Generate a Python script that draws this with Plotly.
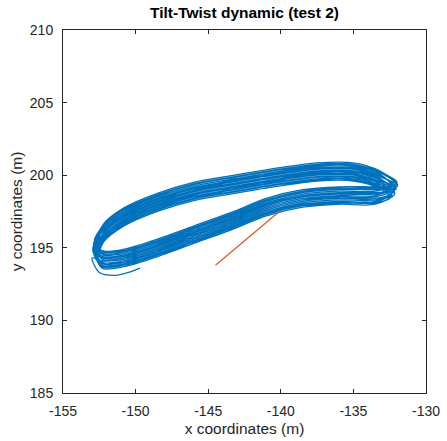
import plotly.graph_objects as go

# ---- data (metres) ----
loop_x = [
    [-152.8, -152.2, -150.8, -148.5, -146.0, -143.5, -140.5, -137.5, -135.0, -133.2, -132.1, -133.5, -136.0, -138.5, -141.0, -143.5, -146.0, -148.5, -150.8, -152.3],
    [-152.7, -152.2, -150.8, -148.5, -146.0, -143.5, -140.5, -137.5, -135.0, -133.2, -132.4, -133.5, -136.0, -138.5, -141.0, -143.5, -146.0, -148.5, -150.8, -152.3],
    [-152.9, -152.2, -150.8, -148.5, -146.0, -143.5, -140.5, -137.5, -135.0, -133.2, -132.0, -133.5, -136.0, -138.5, -141.0, -143.5, -146.0, -148.5, -150.8, -152.3],
    [-152.6, -152.2, -150.8, -148.5, -146.0, -143.5, -140.5, -137.5, -135.0, -133.2, -132.45, -133.5, -136.0, -138.5, -141.0, -143.5, -146.0, -148.5, -150.8, -152.3],
    [-152.95, -152.2, -150.8, -148.5, -146.0, -143.5, -140.5, -137.5, -135.0, -133.2, -132.05, -133.5, -136.0, -138.5, -141.0, -143.5, -146.0, -148.5, -150.8, -152.3],
    [-152.75, -152.2, -150.8, -148.5, -146.0, -143.5, -140.5, -137.5, -135.0, -133.2, -132.2, -133.5, -136.0, -138.5, -141.0, -143.5, -146.0, -148.5, -150.8, -152.3],
    [-152.85, -152.2, -150.8, -148.5, -146.0, -143.5, -140.5, -137.5, -135.0, -133.2, -132.3, -133.5, -136.0, -138.5, -141.0, -143.5, -146.0, -148.5, -150.8, -152.3],
    [-152.8, -152.2, -150.8, -148.5, -146.0, -143.5, -140.5, -137.5, -135.0, -133.2, -131.95, -133.5, -136.0, -138.5, -141.0, -143.5, -146.0, -148.5, -150.8, -152.3],
    [-152.65, -152.2, -150.8, -148.5, -146.0, -143.5, -140.5, -137.5, -135.0, -133.2, -132.4, -133.5, -136.0, -138.5, -141.0, -143.5, -146.0, -148.5, -150.8, -152.3],
    [-152.7, -152.2, -150.8, -148.5, -146.0, -143.5, -140.5, -137.5, -135.0, -133.2, -132.15, -133.5, -136.0, -138.5, -141.0, -143.5, -146.0, -148.5, -150.8, -152.3],
    [-152.9, -152.2, -150.8, -148.5, -146.0, -143.5, -140.5, -137.5, -135.0, -133.2, -132.25, -133.5, -136.0, -138.5, -141.0, -143.5, -146.0, -148.5, -150.8, -152.3],
    [-152.85, -152.2, -150.8, -148.5, -146.0, -143.5, -140.5, -137.5, -135.0, -133.2, -132.0, -133.5, -136.0, -138.5, -141.0, -143.5, -146.0, -148.5, -150.8, -152.3],
    [-152.65, -152.2, -150.8, -148.5, -146.0, -143.5, -140.5, -137.5, -135.0, -133.2, -132.35, -133.5, -136.0, -138.5, -141.0, -143.5, -146.0, -148.5, -150.8, -152.3],
    [-152.75, -152.2, -150.8, -148.5, -146.0, -143.5, -140.5, -137.5, -135.0, -133.2, -132.2, -133.5, -136.0, -138.5, -141.0, -143.5, -146.0, -148.5, -150.8, -152.3],
    [-152.9, -152.2, -150.8, -148.5, -146.0, -143.5, -140.5, -137.5, -135.0, -133.2, -132.3, -133.5, -136.0, -138.5, -141.0, -143.5, -146.0, -148.5, -150.8, -152.3],
    [-152.8, -152.2, -150.8, -148.5, -146.0, -143.5, -140.5, -137.5, -135.0, -133.2, -132.1, -133.5, -136.0, -138.5, -141.0, -143.5, -146.0, -148.5, -150.8, -152.3],
    [-152.7, -152.2, -150.8, -148.5, -146.0, -143.5, -140.5, -137.5, -135.0, -133.2, -132.4, -133.5, -136.0, -138.5, -141.0, -143.5, -146.0, -148.5, -150.8, -152.3],
    [-152.8, -152.2, -150.8, -148.5, -146.0, -143.5, -140.5, -137.5, -135.0, -133.2, -132.1, -133.5, -136.0, -138.5, -141.0, -143.5, -146.0, -148.5, -150.8, -152.3],
]
loop_y = [
    [195.3, 196.5, 197.6, 198.6, 199.35, 199.8, 200.3, 200.7, 200.7, 200.2, 199.4, 198.9, 198.9, 198.7, 198.1, 197.1, 196.2, 195.3, 194.6, 194.5],
    [194.65, 195.7, 196.8, 197.8, 198.55, 199.0, 199.5, 199.9, 199.9, 199.4, 198.75, 198.4, 198.4, 198.2, 197.6, 196.6, 195.7, 194.8, 194.1, 194.0],
    [195.25, 196.2, 197.3, 198.3, 199.05, 199.5, 200.0, 200.4, 200.4, 199.9, 199.35, 199.1, 199.1, 198.9, 198.3, 197.3, 196.4, 195.5, 194.8, 194.7],
    [194.35, 195.4, 196.5, 197.5, 198.25, 198.7, 199.2, 199.6, 199.6, 199.1, 198.45, 198.1, 198.1, 197.9, 197.3, 196.3, 195.4, 194.5, 193.8, 193.7],
    [194.95, 196.0, 197.1, 198.1, 198.85, 199.3, 199.8, 200.2, 200.2, 199.7, 199.05, 198.7, 198.7, 198.5, 197.9, 196.9, 196.0, 195.1, 194.4, 194.3],
    [194.9, 196.4, 197.5, 198.5, 199.25, 199.7, 200.2, 200.6, 200.6, 200.1, 199.0, 198.2, 198.2, 198.0, 197.4, 196.4, 195.5, 194.6, 193.9, 193.8],
    [195.0, 195.8, 196.9, 197.9, 198.65, 199.1, 199.6, 200.0, 200.0, 199.5, 199.1, 199.0, 199.0, 198.8, 198.2, 197.2, 196.3, 195.4, 194.7, 194.6],
    [195.2, 196.65, 197.75, 198.75, 199.5, 199.95, 200.45, 200.85, 200.85, 200.3, 199.3, 198.6, 198.6, 198.4, 197.8, 196.8, 195.9, 195.0, 194.3, 194.2],
    [194.8, 195.55, 196.65, 197.65, 198.4, 198.85, 199.35, 199.75, 199.75, 199.25, 198.9, 198.8, 198.8, 198.6, 198.0, 197.0, 196.1, 195.2, 194.5, 194.4],
    [194.65, 196.1, 197.2, 198.2, 198.95, 199.4, 199.9, 200.3, 200.3, 199.8, 198.75, 198.0, 198.0, 197.8, 197.2, 196.2, 195.3, 194.4, 193.7, 193.6],
    [195.15, 195.9, 197.0, 198.0, 198.75, 199.2, 199.7, 200.1, 200.1, 199.6, 199.25, 199.2, 199.2, 199.0, 198.4, 197.4, 196.5, 195.6, 194.9, 194.8],
    [195.4, 196.55, 197.65, 198.65, 199.4, 199.85, 200.35, 200.75, 200.75, 200.25, 199.5, 199.05, 199.05, 198.85, 198.25, 197.25, 196.35, 195.45, 194.75, 194.65],
    [194.5, 195.5, 196.6, 197.6, 198.35, 198.8, 199.3, 199.7, 199.7, 199.2, 198.6, 198.3, 198.3, 198.1, 197.5, 196.5, 195.6, 194.7, 194.0, 193.9],
    [194.78, 196.05, 197.15, 198.15, 198.9, 199.35, 199.85, 200.25, 200.25, 199.75, 198.88, 198.3, 198.3, 198.1, 197.5, 196.5, 195.6, 194.7, 194.0, 193.9],
    [194.98, 195.65, 196.75, 197.75, 198.5, 198.95, 199.45, 199.85, 199.85, 199.35, 199.08, 199.1, 199.1, 198.9, 198.3, 197.3, 196.4, 195.5, 194.8, 194.7],
    [195.1, 196.25, 197.35, 198.35, 199.1, 199.55, 200.05, 200.45, 200.45, 199.95, 199.2, 198.75, 198.75, 198.55, 197.95, 196.95, 196.05, 195.15, 194.45, 194.35],
    [194.6, 195.85, 196.95, 197.95, 198.7, 199.15, 199.65, 200.05, 200.05, 199.55, 198.7, 198.15, 198.15, 197.95, 197.35, 196.35, 195.45, 194.55, 193.85, 193.75],
    [195.0, 196.3, 197.4, 198.4, 199.15, 199.6, 200.1, 200.5, 200.5, 200.0, 199.1, 198.5, 198.5, 198.3, 197.7, 196.7, 195.8, 194.9, 194.2, 194.1],
]
tail_x = [-153.0, -152.5, -151.4, -150.5, -149.7]
tail_y = [194.3, 193.3, 193.1, 193.3, 193.6]

orange_x = [-144.5, -140.1]
orange_y = [193.8, 197.5]

x_ticks = [-155, -150, -145, -140, -135, -130]
y_ticks = [185, 190, 195, 200, 205, 210]

# ---- build the trajectory ----
traj_x, traj_y = [], []
for lx, ly in zip(loop_x, loop_y):
    traj_x += lx
    traj_y += ly
traj_x += tail_x
traj_y += tail_y

FONT = "Liberation Sans, Arial, Helvetica, sans-serif"

fig = go.Figure()
fig.add_trace(go.Scatter(x=traj_x, y=traj_y, mode="lines",
                         line=dict(color="#0072BD", width=1.3, shape="spline", smoothing=0.85),
                         showlegend=False, hoverinfo="skip"))
fig.add_trace(go.Scatter(x=orange_x, y=orange_y, mode="lines",
                         line=dict(color="#D95319", width=1.1),
                         showlegend=False, hoverinfo="skip"))

axis_common = dict(showgrid=False, zeroline=False, showline=True, linecolor="#262626",
                   linewidth=1, mirror="ticks", ticks="inside", ticklen=4, tickcolor="#262626",
                   automargin=False,
                   tickfont=dict(family=FONT, size=14, color="#262626"))

fig.update_layout(
    width=447, height=441,
    margin=dict(l=63, r=21, t=30, b=48),
    paper_bgcolor="white", plot_bgcolor="white",
    title=dict(text="<b>Tilt-Twist dynamic (test 2)</b>", x=0.5, xanchor="center",
               y=1 - 13 / 441, yanchor="middle", xref="paper",
               font=dict(family=FONT, size=15.5, color="black")),
    xaxis=dict(range=[-155, -130], tickvals=x_ticks, ticktext=[str(v) for v in x_ticks],
               title=dict(text="x coordinates (m)", standoff=5,
                          font=dict(family=FONT, size=15.5, color="#262626")),
               ticklabelstandoff=5, **axis_common),
    yaxis=dict(range=[185, 210], tickvals=y_ticks, ticktext=[str(v) for v in y_ticks],
               title=dict(text="y coordinates (m)", standoff=3,
                          font=dict(family=FONT, size=15.5, color="#262626")),
               ticklabelstandoff=6, **axis_common),
)

fig.write_html("out.html")
